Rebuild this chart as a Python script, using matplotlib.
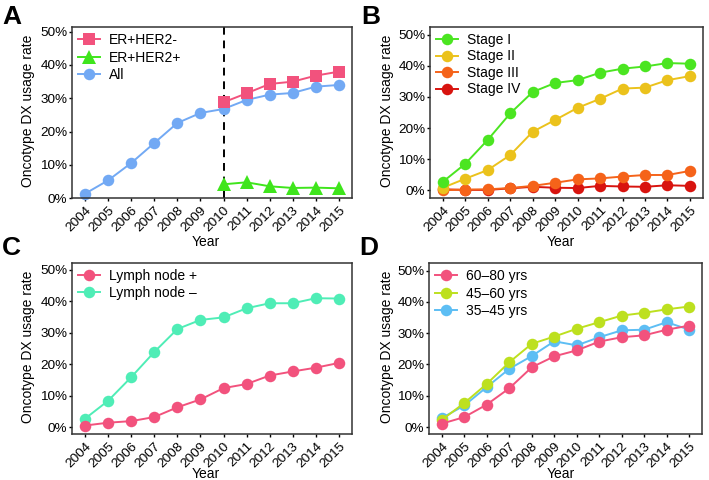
import matplotlib
matplotlib.use("Agg")
import matplotlib.pyplot as plt
from matplotlib.ticker import FuncFormatter

plt.rcParams['font.family'] = ['Liberation Sans', 'DejaVu Sans']

years = [2004, 2005, 2006, 2007, 2008, 2009, 2010, 2011, 2012, 2013, 2014, 2015]
years_late = [2010, 2011, 2012, 2013, 2014, 2015]

# Panel A
a_all = [1.4, 5.4, 10.6, 16.6, 22.6, 25.6, 26.8, 29.5, 31.1, 31.6, 33.5, 34.0]
a_er_her2neg = [28.8, 31.5, 34.3, 35.0, 36.8, 38.0]
a_er_her2pos = [4.2, 4.8, 3.6, 3.1, 3.2, 3.0]

# Panel B
b_stage1 = [2.7, 8.5, 16.2, 24.7, 31.6, 34.5, 35.4, 37.8, 39.1, 39.8, 40.9, 40.7]
b_stage2 = [0.8, 3.7, 6.5, 11.3, 18.8, 22.6, 26.5, 29.4, 32.7, 33.0, 35.4, 36.7]
b_stage3 = [0.0, 0.2, 0.3, 0.7, 1.4, 2.4, 3.5, 3.8, 4.4, 4.9, 4.9, 6.2]
b_stage4 = [0.3, 0.1, 0.1, 0.6, 1.1, 0.8, 0.7, 1.4, 1.2, 1.1, 1.6, 1.4]

# Panel C
c_pos = [0.5, 1.4, 1.9, 3.2, 6.3, 8.8, 12.4, 13.7, 16.4, 17.7, 18.9, 20.4]
c_neg = [2.7, 8.4, 15.9, 23.9, 31.2, 34.1, 34.9, 37.8, 39.4, 39.4, 41.0, 40.9]

# Panel D
d_60_80 = [1.1, 3.2, 7.2, 12.4, 19.1, 22.6, 24.5, 27.3, 28.7, 29.3, 31.1, 32.4]
d_45_60 = [2.3, 7.7, 13.8, 20.7, 26.6, 28.9, 31.4, 33.5, 35.6, 36.5, 37.6, 38.5]
d_35_45 = [2.9, 6.9, 12.8, 18.6, 22.7, 27.4, 26.1, 28.7, 30.9, 31.1, 33.5, 31.1]

yticks = [0, 10, 20, 30, 40, 50]

PINK = '#F2527D'
GREEN_A = '#3FE51C'
BLUE_A = '#72A9F4'
S1 = '#4BE521'
S2 = '#EBC21C'
S3 = '#F5631A'
S4 = '#D8140F'
AQUA = '#4FEDB6'
YG = '#BDE01F'
SKY = '#5DBEF4'

W, H = 709, 480
fig = plt.figure(figsize=(W / 100, H / 100), dpi=100)

def ax_at(l, t, r, b):
    return fig.add_axes([l / W, (H - b) / H, (r - l) / W, (b - t) / H])

def style(ax, ylim, xlab_px, ylab_px):
    ax.set_xlim(2004 - 0.57, 2015 + 0.57)
    ax.set_ylim(*ylim)
    ax.set_xticks(years)
    ax.set_xticklabels([str(y) for y in years], rotation=45, ha='right',
                       va='top', rotation_mode='anchor', fontsize=9.7)
    ax.set_yticks(yticks)
    ax.yaxis.set_major_formatter(FuncFormatter(lambda v, p: f"{int(v)}%"))
    ax.tick_params(axis='y', labelsize=9.7, length=2.4, width=1, pad=1)
    ax.tick_params(axis='x', length=2.4, width=1, pad=2)
    for s in ax.spines.values():
        s.set_color('#333333')
        s.set_linewidth(1.1)
    ax.set_xlabel('Year', fontsize=10, va='baseline')
    ax.xaxis.set_label_coords(xlab_px[0] / W, (H - xlab_px[1]) / H,
                              transform=fig.transFigure)
    ax.set_ylabel('Oncotype DX usage rate', fontsize=10, va='center')
    ax.yaxis.set_label_coords(ylab_px[0] / W, (H - ylab_px[1]) / H,
                              transform=fig.transFigure)

def series(ax, x, y, color, marker, label, ms=8.3, z=2):
    ax.plot(x, y, color=color, marker=marker, markersize=ms, linewidth=1.4,
            markeredgewidth=0, label=label, zorder=z, clip_on=False)

def legend(ax, order, spacing=0.25):
    h, l = ax.get_legend_handles_labels()
    hh = [h[l.index(o)] for o in order]
    ax.legend(hh, order, loc='upper left', frameon=False, fontsize=10,
              handlelength=1.6, handletextpad=0.6, labelspacing=spacing,
              borderaxespad=0.0, borderpad=0.43,
              bbox_to_anchor=(0.0, 1.0))

# A
axA = ax_at(72, 27.3, 352, 198.3)
axA.axvline(2010, color='black', linestyle=(0, (4, 3)), linewidth=1.4, zorder=1)
series(axA, years, a_all, BLUE_A, 'o', 'All', z=2)
series(axA, years_late, a_er_her2neg, PINK, 's', 'ER+HER2-', ms=8.3, z=3)
series(axA, years_late, a_er_her2pos, GREEN_A, '^', 'ER+HER2+', ms=9.5, z=3)
style(axA, (0, 51.3), (206, 246), (28.5, 111))
legend(axA, ['ER+HER2-', 'ER+HER2+', 'All'])

# B
axB = ax_at(430, 27, 702.7, 198)
series(axB, years, b_stage4, S4, 'o', 'Stage IV', z=2)
series(axB, years, b_stage3, S3, 'o', 'Stage III', z=3)
series(axB, years, b_stage2, S2, 'o', 'Stage II', z=4)
series(axB, years, b_stage1, S1, 'o', 'Stage I', z=5)
style(axB, (-2.5, 52.5), (561, 246), (387, 111))
legend(axB, ['Stage I', 'Stage II', 'Stage III', 'Stage IV'], spacing=0.18)

# C
axC = ax_at(72, 262.7, 352, 434)
series(axC, years, c_neg, AQUA, 'o', 'Lymph node \u2013', z=2)
series(axC, years, c_pos, PINK, 'o', 'Lymph node +', z=3)
style(axC, (-2.2, 52.3), (206, 478), (28.5, 347))
legend(axC, ['Lymph node +', 'Lymph node \u2013'])

# D
axD = ax_at(429, 263.3, 702, 434)
series(axD, years, d_35_45, SKY, 'o', '35\u201345 yrs', z=2)
series(axD, years, d_45_60, YG, 'o', '45\u201360 yrs', z=3)
series(axD, years, d_60_80, PINK, 'o', '60\u201380 yrs', z=4)
style(axD, (-2.2, 52.3), (561, 478), (387, 347))
legend(axD, ['60\u201380 yrs', '45\u201360 yrs', '35\u201345 yrs'])

for lbl, x, y in [('A', 2, 24), ('B', 361, 24), ('C', 2, 255), ('D', 359, 255)]:
    fig.text(x / W, (H - y) / H, lbl, fontsize=19, fontweight='bold',
             ha='left', va='baseline')

fig.savefig('out.png', dpi=100)
